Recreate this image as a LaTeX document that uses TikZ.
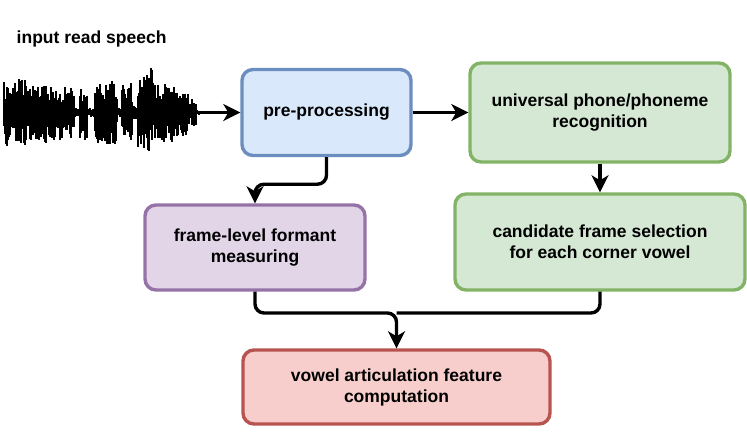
\documentclass[tikz,border=0pt]{standalone}
\usepackage{fontspec}
\setmainfont{Liberation Sans}
\usetikzlibrary{arrows.meta}
\definecolor{preFill}{HTML}{DAE8FC}
\definecolor{preLine}{HTML}{6C8EBF}
\definecolor{recFill}{HTML}{D5E8D4}
\definecolor{recLine}{HTML}{82B366}
\definecolor{fmtFill}{HTML}{E1D5E7}
\definecolor{fmtLine}{HTML}{9673A6}
\definecolor{outFill}{HTML}{F8CECC}
\definecolor{outLine}{HTML}{B85450}
\begin{document}
\begin{tikzpicture}[x=1pt, y=-1pt, line width=3.4pt,
  box/.style={draw, rounded corners=11pt, align=center, inner sep=0pt,
    font=\fontsize{17.5}{21}\selectfont\bfseries},
  link/.style={-{Stealth[length=17pt,width=17pt,inset=5pt]}, rounded corners=9pt},
  wave/.style={line width=1.25pt, line cap=butt}]
\useasboundingbox (0,0) rectangle (747,432);
\node[anchor=west, inner sep=0pt, font=\fontsize{17.5}{21}\selectfont\bfseries] (P_lbl) at (15,39) {input read speech};
% speech waveform
\pgfmathsetseed{7}
\draw[line width=0.8pt] (3,112.5) -- (200,112.5);
\foreach \a/\b/\h in {4/27/34, 28/40/28, 41/55/31, 56/74/28, 75/79/5, 80/87/30, 88/94/5,
    95/117/32, 118/121/5, 122/132/30, 133/137/7, 138/149/40, 150/152/48, 153/174/30,
    175/188/24, 189/196/14, 197/199/3}{
  \foreach \x in {\a,...,\b}{
    \pgfmathsetmacro\up{\h*(0.3+0.7*rnd)}
    \pgfmathsetmacro\dn{\h*(0.3+0.7*rnd)}
    \draw[wave] (\x,112.5-\up) -- (\x,112.5+\dn);
  }
}
\coordinate (P_0_0) at (200,112.5);
\node[box, fill=preFill, draw=preLine, minimum width=169pt, minimum height=86pt] (P_1_0) at (326.5,112.5) {pre-processing};
\node[box, fill=recFill, draw=recLine, minimum width=260pt, minimum height=99pt] (P_2_0) at (600,112.5) {universal phone/phoneme\\recognition};
\node[box, fill=recFill, draw=recLine, minimum width=290pt, minimum height=96pt] (P_2_1) at (600,242) {candidate frame selection\\for each corner vowel};
\node[box, fill=fmtFill, draw=fmtLine, minimum width=220pt, minimum height=85pt] (P_1_1) at (255,247.5) {frame-level formant\\measuring};
\node[box, fill=outFill, draw=outLine, minimum width=307pt, minimum height=74pt] (P_1_2) at (396.5,387) {vowel articulation feature\\computation};
\coordinate (P_m) at (396.5,313);
\draw[link] (P_0_0) -- (P_1_0);
\draw[link] (P_1_0) -- (P_2_0);
\draw[link] (P_2_0) -- (P_2_1);
\draw[link] (P_1_0.south) -- ++(0,27) -| (P_1_1.north);
\draw[link] (P_1_1.south) |- (P_m) -- (P_1_2.north);
\draw[rounded corners=9pt] (P_2_1.south) |- (P_m);
\end{tikzpicture}
\end{document}
